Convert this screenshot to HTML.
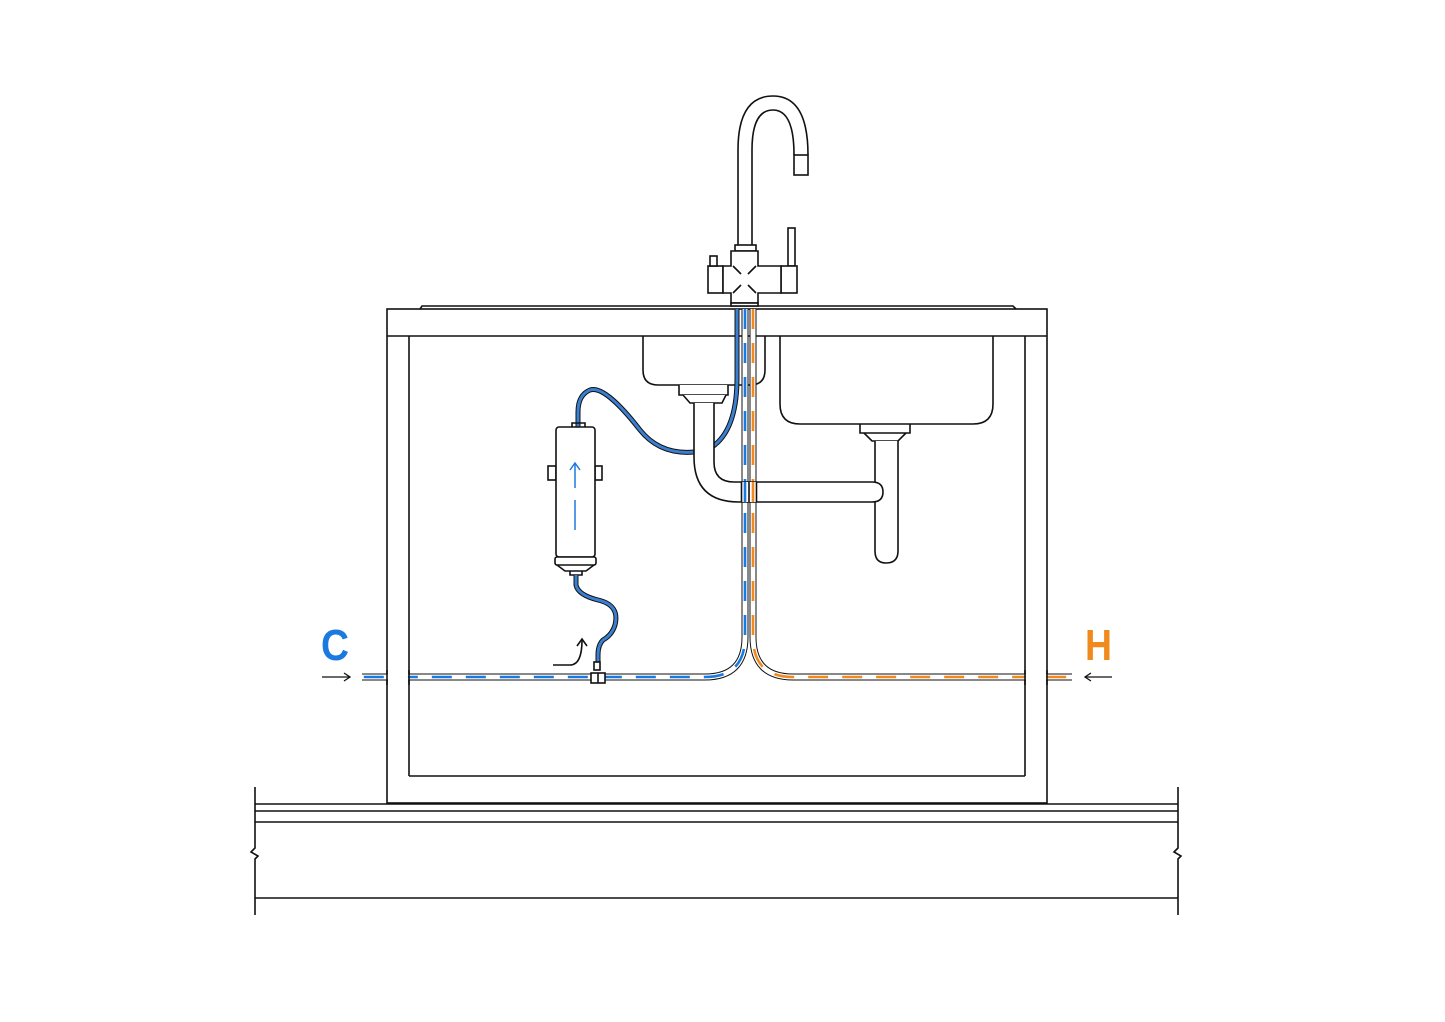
<!DOCTYPE html>
<html><head><meta charset="utf-8"><style>html,body{margin:0;padding:0;background:#fff}svg{display:block}</style></head>
<body>
<svg width="1445" height="1022" viewBox="0 0 1445 1022" xmlns="http://www.w3.org/2000/svg" fill="none" stroke="#111" stroke-width="1.6">
<!-- floor -->
<line x1="255" y1="804" x2="1178" y2="804"/>
<line x1="255" y1="811" x2="1178" y2="811"/>
<line x1="255" y1="822" x2="1178" y2="822"/>
<line x1="255" y1="898" x2="1178" y2="898"/>
<polyline points="255,787 255,848 251,852 258,856 255,859 255,915"/>
<polyline points="1178,787 1178,848 1174,852 1181,856 1178,859 1178,915"/>
<!-- cabinet -->
<rect x="387" y="309" width="660" height="494" fill="#fff"/>
<line x1="387" y1="336" x2="1047" y2="336"/>
<line x1="409" y1="336" x2="409" y2="776"/>
<line x1="1025" y1="336" x2="1025" y2="776"/>
<line x1="409" y1="776" x2="1025" y2="776"/>
<path d="M420 309 L422 306 L1013 306 L1016 309"/>
<!-- sinks -->
<path d="M643 336 V370 Q643 385 658 385 H750 Q765 385 765 370 V336"/>
<path d="M780 336 V404 Q780 424 800 424 H973 Q993 424 993 404 V336"/>
<!-- right drain -->
<path d="M860 424 V433 H910 V424"/><path d="M864 433 L872 441 H898 L906 433"/>
<path d="M875 441 V551 Q875 563 886 563 Q898 563 898 551 V441" fill="#fff"/>
<!-- feed hose to faucet (behind drain) -->
<path d="M737 309 V378 Q737 430 712 447 M694 452 Q660 455 640 430 Q605 385 590 390 Q578 395 578 412 V427" stroke="#111" stroke-width="5"/>
<path d="M737 309 V378 Q737 430 712 447 M694 452 Q660 455 640 430 Q605 385 590 390 Q578 395 578 412 V427" stroke="#3a7fd0" stroke-width="3"/>
<!-- supply pipes -->
<g stroke-linecap="butt">
<path d="M745 309 V637 Q745 677 705 677 H362" stroke="#111" stroke-width="7"/>
<path d="M745 309 V637 Q745 677 705 677 H362" stroke="#fff" stroke-width="5"/>
<path d="M745 309 V637 Q745 677 705 677 H362" stroke="#1a7ae0" stroke-width="2.6" stroke-dasharray="20 14"/>
<path d="M753 309 V637 Q753 677 793 677 H1072" stroke="#111" stroke-width="7"/>
<path d="M753 309 V637 Q753 677 793 677 H1072" stroke="#fff" stroke-width="5"/>
<path d="M753 309 V637 Q753 677 793 677 H1072" stroke="#f08a1e" stroke-width="2.6" stroke-dasharray="20 14"/>
</g>
<line x1="387" y1="670" x2="387" y2="685"/><line x1="409" y1="670" x2="409" y2="685"/>
<line x1="1025" y1="670" x2="1025" y2="685"/><line x1="1047" y1="670" x2="1047" y2="685"/>
<rect x="388" y="673" width="20" height="9" fill="#fff" stroke="none"/>
<rect x="1026" y="673" width="20" height="9" fill="#fff" stroke="none"/>
<!-- left drain -->
<path d="M679 385 V395 H728 V385" fill="#fff"/><path d="M683 395 L690 403 H722 L726 395" fill="#fff"/>
<path d="M694 403 V457 Q694 502 739 502 H872 Q883 502 883 492 Q883 482 872 482 H734 Q714 482 714 462 V403" fill="#fff"/>
<!-- pipes crossing over drain horizontal -->
<g>
<rect x="741" y="482" width="16" height="20" fill="#fff" stroke="none"/>
<line x1="741.5" y1="482" x2="741.5" y2="502"/><line x1="749" y1="482" x2="749" y2="502"/><line x1="756.5" y1="482" x2="756.5" y2="502"/>
<line x1="745" y1="482" x2="745" y2="502" stroke="#1a7ae0" stroke-width="2.6"/>
<line x1="753" y1="482" x2="753" y2="502" stroke="#f08a1e" stroke-width="2.6"/>
</g>
<!-- filter -->
<path d="M572 427 V423 H585 V427"/>
<rect x="548" y="466" width="8" height="14" fill="#fff"/>
<rect x="595" y="466" width="7" height="14" fill="#fff"/>
<rect x="556" y="427" width="39" height="130" rx="3" fill="#fff"/>
<rect x="555" y="557" width="41" height="8" rx="2" fill="#fff"/>
<path d="M557 565 L565 571 H586 L594 565"/>
<path d="M570 571 V575 H582 V571"/>
<g stroke="#1a7ae0" stroke-width="1.5"><line x1="575" y1="463" x2="575" y2="488"/><path d="M570 470 L575 463 L580 470"/><line x1="575" y1="500" x2="575" y2="530"/></g>
<!-- bottom hose -->
<path d="M576 575 V585 Q578 595 598 600 Q620 605 615 625 Q612 635 603 640 Q598 645 598 655 V668" stroke="#111" stroke-width="5"/>
<path d="M576 575 V585 Q578 595 598 600 Q620 605 615 625 Q612 635 603 640 Q598 645 598 655 V668" stroke="#3a7fd0" stroke-width="3"/>
<rect x="594" y="662" width="6" height="8" fill="#fff"/>
<rect x="591" y="673" width="14" height="10" fill="#fff"/>
<line x1="598" y1="673" x2="598" y2="683"/>
<!-- curved arrow -->
<path d="M553 665 H570 Q582 665 582 640"/><path d="M577 646 L582 639 L587 646"/>
<!-- faucet -->
<path d="M738 245 V150 Q738 96 773 96 Q808 96 808 155 M752 245 V150 Q752 110 773 110 Q794 110 794 155" fill="none"/>
<rect x="794" y="155" width="14" height="20" fill="#fff"/>
<rect x="735" y="245" width="21" height="6" fill="#fff"/>
<rect x="708" y="266" width="15" height="27" fill="#fff"/>
<rect x="710" y="256" width="7" height="10" fill="#fff"/>
<rect x="788" y="228" width="7" height="38" fill="#fff"/>
<rect x="781" y="266" width="16" height="27" fill="#fff"/>
<path d="M723 266 H731 V251 H758 V266 H781 V293 H758 V303 H731 V293 H723 Z" fill="#fff"/>
<path d="M733 266 L741 274 M756 266 L748 274 M733 293 L741 285 M756 293 L748 285"/>
<rect x="731" y="303" width="27" height="3" fill="#fff"/>
<!-- labels -->
<text x="321" y="660" font-family="Liberation Sans, sans-serif" font-weight="bold" font-size="44" fill="#1a7ae0" stroke="none" textLength="28" lengthAdjust="spacingAndGlyphs">C</text>
<text x="1085" y="660" font-family="Liberation Sans, sans-serif" font-weight="bold" font-size="44" fill="#f08a1e" stroke="none" textLength="27" lengthAdjust="spacingAndGlyphs">H</text>
<g stroke-width="1.3"><line x1="322" y1="677" x2="350" y2="677"/><path d="M344 673 L350 677 L344 681"/>
<line x1="1085" y1="677" x2="1112" y2="677"/><path d="M1091 673 L1085 677 L1091 681"/></g>
</svg>
</body></html>
